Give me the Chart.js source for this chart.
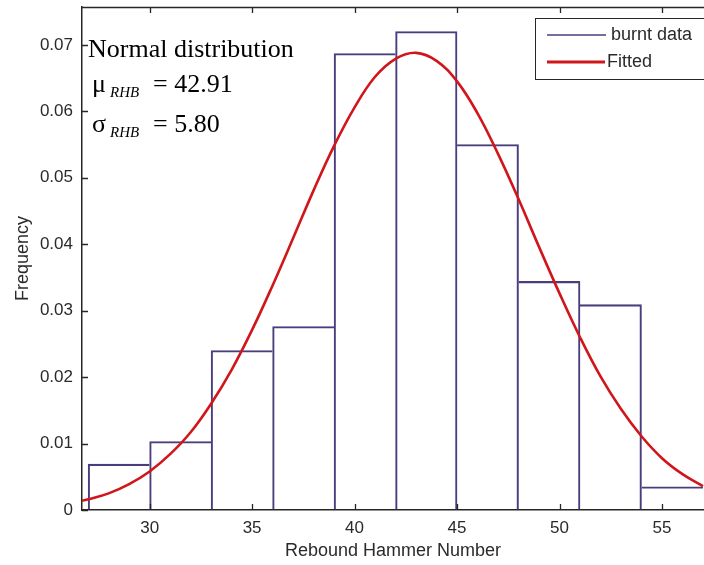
<!DOCTYPE html>
<html>
<head>
<meta charset="utf-8">
<script src="https://cdn.jsdelivr.net/npm/chart.js@4.4.1/dist/chart.umd.min.js"></script>
<style>
  html, body { margin: 0; padding: 0; background: #fff; }
  #wrap { width: 704px; height: 565px; position: relative; }
</style>
</head>
<body>
<div id="wrap"><canvas id="histCanvas"></canvas></div>
<script>
// ── Data ──────────────────────────────────────────────────────────────────
// Histogram bins (3 units wide) and their normalised frequencies.
const binStarts = [27, 30, 33, 36, 39, 42, 45, 48, 51, 54];
const binWidth  = 3;
const binFreq   = [0.0069, 0.0103, 0.0240, 0.0276, 0.0687, 0.0720, 0.0550, 0.0344, 0.0309, 0.0035];

// Fitted normal curve, sampled once per unit along the x axis.
const curveX = [26.7, 27, 28, 29, 30, 31, 32, 33, 34, 35, 36, 37, 38, 39, 40, 41, 42,
                43, 44, 45, 46, 47, 48, 49, 50, 51, 52, 53, 54, 55, 56, 57];
const curveY = [0.0014, 0.0016, 0.0025, 0.0039, 0.0058, 0.0084, 0.0117, 0.0160, 0.0211,
                0.0271, 0.0338, 0.0409, 0.0481, 0.0548, 0.0606, 0.0652, 0.0679,
                0.0688, 0.0676, 0.0645, 0.0597, 0.0536, 0.0468, 0.0396, 0.0326,
                0.0260, 0.0201, 0.0152, 0.0111, 0.0078, 0.0054, 0.0036];

// Axis tick labels.
const xTicks = [30, 35, 40, 45, 50, 55];
const yTicks = [0, 0.01, 0.02, 0.03, 0.04, 0.05, 0.06, 0.07];

// Fit parameters shown in the annotation.
const fitMu    = "42.91";
const fitSigma = "5.80";

// ── Styling ───────────────────────────────────────────────────────────────
const BAR_COLOR  = "#4b3c7e";
const FIT_COLOR  = "#d0161a";
const AXIS_COLOR = "#262626";
const TEXT_COLOR = "#2a2a2a";
const SANS  = "'Liberation Sans', Arial, sans-serif";
const SERIF = "'Liberation Serif', 'Times New Roman', serif";
const BAR_LINE = 1.4;

// Inward MATLAB-style ticks plus the top frame line.
const frameTicks = {
    id: "frameTicks",
    afterDraw(chart) {
        const { ctx, chartArea: a, scales } = chart;
        const len = 6;
        ctx.save();
        ctx.strokeStyle = AXIS_COLOR;
        ctx.lineWidth = 1.3;
        ctx.beginPath();
        // top frame
        ctx.moveTo(a.left, a.top + 0.5);
        ctx.lineTo(a.right, a.top + 0.5);
        xTicks.forEach((v) => {
            const px = Math.round(scales.x.getPixelForValue(v)) + 0.5;
            ctx.moveTo(px, a.bottom);
            ctx.lineTo(px, a.bottom - len);
            ctx.moveTo(px, a.top);
            ctx.lineTo(px, a.top + len);
        });
        yTicks.forEach((v) => {
            const py = Math.round(scales.y.getPixelForValue(v)) + 0.5;
            ctx.moveTo(a.left, py);
            ctx.lineTo(a.left + len, py);
        });
        ctx.stroke();
        ctx.restore();
    },
};

// Boxed legend inside the top-right corner of the axes.
const boxLegend = {
    id: "boxLegend",
    afterDraw(chart) {
        const { ctx, chartArea: a } = chart;
        const sets = chart.data.datasets;
        const items = [sets[1], sets[0]]; // burnt data first, then fit
        const x0 = 535, y0 = 18, x1 = a.right + 2, y1 = 79;
        ctx.save();
        ctx.fillStyle = "#fff";
        ctx.fillRect(x0, y0, x1 - x0, y1 - y0);
        ctx.strokeStyle = AXIS_COLOR;
        ctx.lineWidth = 1;
        ctx.strokeRect(x0 + 0.5, y0 + 0.5, x1 - x0, y1 - y0);
        ctx.font = "18px " + SANS;
        ctx.textBaseline = "middle";
        ctx.fillStyle = TEXT_COLOR;
        const rows = [
            { y: 35, x2: 606, tx: 611 },
            { y: 62, x2: 605, tx: 607 },
        ];
        items.forEach((ds, i) => {
            const r = rows[i];
            ctx.strokeStyle = ds.borderColor;
            ctx.lineWidth = i === 0 ? 1.5 : 3;
            ctx.beginPath();
            ctx.moveTo(547, r.y);
            ctx.lineTo(r.x2, r.y);
            ctx.stroke();
            ctx.fillText(ds.label, r.tx, r.y);
        });
        ctx.restore();
    },
};

// "Normal distribution" annotation with the fit parameters.
const fitNote = {
    id: "fitNote",
    afterDraw(chart) {
        const { ctx } = chart;
        ctx.save();
        ctx.fillStyle = "#000";
        ctx.textBaseline = "alphabetic";
        ctx.font = "26px " + SERIF;
        ctx.fillText("Normal distribution", 88, 57);

        const lines = [
            { sym: "\u03bc", val: fitMu,    base: 92 },
            { sym: "\u03c3", val: fitSigma, base: 132 },
        ];
        lines.forEach((l) => {
            ctx.font = "26px " + SERIF;
            ctx.fillText(l.sym, 92, l.base);
            ctx.font = "italic 15px " + SERIF;
            ctx.fillText("RHB", 110, l.base + 5);
            ctx.font = "26px " + SERIF;
            ctx.fillText("= " + l.val, 153, l.base);
        });
        ctx.restore();
    },
};

const barPoints   = binStarts.map((s, i) => ({ x: s + binWidth / 2, y: binFreq[i] }));
const curvePoints = curveX.map((x, i) => ({ x, y: curveY[i] }));
const lastBin = binFreq.length - 1;

// eslint-disable-next-line no-undef
new Chart(document.getElementById("histCanvas"), {
    data: {
        datasets: [
            {
                type: "line",
                label: "Fitted",
                data: curvePoints,
                borderColor: FIT_COLOR,
                borderWidth: 2.6,
                pointRadius: 0,
                tension: 0.4,
                order: 0,
            },
            {
                type: "bar",
                label: "burnt data",
                data: barPoints,
                backgroundColor: "rgba(255,255,255,0)",
                borderColor: BAR_COLOR,
                // shared edges are drawn once, by the taller neighbour;
                // the last bin's right side falls on the cropped edge
                borderWidth: (c) => {
                    const i = c.dataIndex;
                    const h = binFreq[i];
                    return {
                        top: BAR_LINE,
                        bottom: 0,
                        left: (i === 0 || h >= binFreq[i - 1]) ? BAR_LINE : 0,
                        right: (i < lastBin && h > binFreq[i + 1]) ? BAR_LINE : 0,
                    };
                },
                borderSkipped: false,
                barPercentage: 1,
                categoryPercentage: 1,
                order: 1,
            },
        ],
    },
    options: {
        responsive: true,
        maintainAspectRatio: false,
        animation: false,
        layout: { padding: { top: 7, right: 0, left: 0, bottom: 0 } },
        plugins: {
            legend: { display: false },
            tooltip: { enabled: false },
        },
        scales: {
            x: {
                type: "linear",
                offset: false,
                min: 26.7,
                max: 57.05,
                afterBuildTicks: (s) => { s.ticks = xTicks.map((v) => ({ value: v })); },
                afterFit: (s) => { s.height = 55; s.paddingLeft = 0; s.paddingRight = 0; },
                grid: { drawOnChartArea: false, drawTicks: false, offset: false },
                border: { display: true, color: AXIS_COLOR, width: 1.5 },
                ticks: {
                    color: TEXT_COLOR,
                    font: { family: SANS, size: 17 },
                    padding: 8,
                    maxRotation: 0,
                },
                title: {
                    display: true,
                    text: "Rebound Hammer Number",
                    color: TEXT_COLOR,
                    font: { family: SANS, size: 18 },
                    padding: { top: 0, bottom: 3 },
                },
            },
            y: {
                min: 0,
                max: 0.0757,
                afterBuildTicks: (s) => { s.ticks = yTicks.map((v) => ({ value: v })); },
                afterFit: (s) => { s.width = 82; s.paddingTop = 0; s.paddingBottom = 0; },
                grid: { drawOnChartArea: false, drawTicks: false },
                border: { display: true, color: AXIS_COLOR, width: 1.5 },
                ticks: {
                    color: TEXT_COLOR,
                    font: { family: SANS, size: 17 },
                    padding: 9,
                    callback: (v) => (v === 0 ? "0" : v.toFixed(2)),
                },
                title: {
                    display: true,
                    text: "Frequency",
                    color: TEXT_COLOR,
                    font: { family: SANS, size: 18 },
                    padding: { top: 12, bottom: 0 },
                },
            },
        },
    },
    plugins: [frameTicks, fitNote, boxLegend],
});
</script>
</body>
</html>
